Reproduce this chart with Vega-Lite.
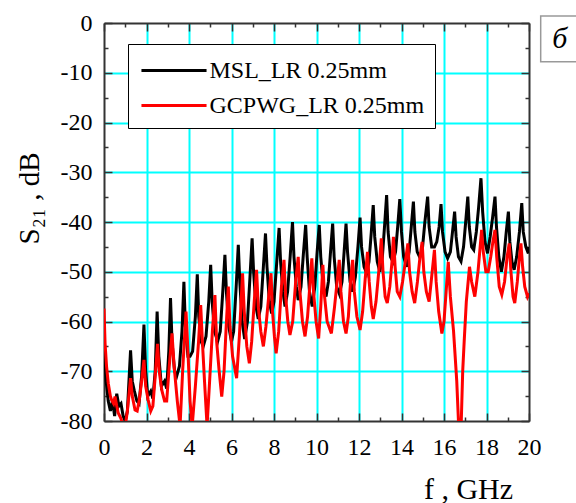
{
  "$schema": "https://vega.github.io/schema/vega-lite/v6.json",
  "width": 425,
  "height": 398,
  "autosize": {"type": "none"},
  "padding": {"left": 104, "top": 23, "right": 47, "bottom": 82},
  "background": "white",
  "config": {"view": {"stroke": null}, "font": "Liberation Serif"},
  "data": {"values": [
    {"series": "MSL_LR 0.25mm", "f": 0, "S21": -65},
    {"series": "MSL_LR 0.25mm", "f": 0.05, "S21": -68},
    {"series": "MSL_LR 0.25mm", "f": 0.1, "S21": -72},
    {"series": "MSL_LR 0.25mm", "f": 0.2, "S21": -76},
    {"series": "MSL_LR 0.25mm", "f": 0.3, "S21": -78},
    {"series": "MSL_LR 0.25mm", "f": 0.4, "S21": -76},
    {"series": "MSL_LR 0.25mm", "f": 0.5, "S21": -79},
    {"series": "MSL_LR 0.25mm", "f": 0.6, "S21": -74.5},
    {"series": "MSL_LR 0.25mm", "f": 0.7, "S21": -77},
    {"series": "MSL_LR 0.25mm", "f": 0.8, "S21": -76.5},
    {"series": "MSL_LR 0.25mm", "f": 0.9, "S21": -79},
    {"series": "MSL_LR 0.25mm", "f": 1.0, "S21": -80},
    {"series": "MSL_LR 0.25mm", "f": 1.1, "S21": -78},
    {"series": "MSL_LR 0.25mm", "f": 1.25, "S21": -65.8},
    {"series": "MSL_LR 0.25mm", "f": 1.33, "S21": -72},
    {"series": "MSL_LR 0.25mm", "f": 1.43, "S21": -74},
    {"series": "MSL_LR 0.25mm", "f": 1.55, "S21": -76},
    {"series": "MSL_LR 0.25mm", "f": 1.65, "S21": -76.5},
    {"series": "MSL_LR 0.25mm", "f": 1.77, "S21": -71},
    {"series": "MSL_LR 0.25mm", "f": 1.88, "S21": -60.6},
    {"series": "MSL_LR 0.25mm", "f": 1.96, "S21": -70},
    {"series": "MSL_LR 0.25mm", "f": 2.06, "S21": -75},
    {"series": "MSL_LR 0.25mm", "f": 2.2, "S21": -74},
    {"series": "MSL_LR 0.25mm", "f": 2.3, "S21": -75.5},
    {"series": "MSL_LR 0.25mm", "f": 2.41, "S21": -70},
    {"series": "MSL_LR 0.25mm", "f": 2.5, "S21": -58},
    {"series": "MSL_LR 0.25mm", "f": 2.58, "S21": -67},
    {"series": "MSL_LR 0.25mm", "f": 2.7, "S21": -73},
    {"series": "MSL_LR 0.25mm", "f": 2.85, "S21": -72},
    {"series": "MSL_LR 0.25mm", "f": 2.95, "S21": -73.5},
    {"series": "MSL_LR 0.25mm", "f": 3.05, "S21": -66},
    {"series": "MSL_LR 0.25mm", "f": 3.13, "S21": -55.3},
    {"series": "MSL_LR 0.25mm", "f": 3.2, "S21": -64},
    {"series": "MSL_LR 0.25mm", "f": 3.32, "S21": -70},
    {"series": "MSL_LR 0.25mm", "f": 3.42, "S21": -71},
    {"series": "MSL_LR 0.25mm", "f": 3.55, "S21": -69},
    {"series": "MSL_LR 0.25mm", "f": 3.67, "S21": -62},
    {"series": "MSL_LR 0.25mm", "f": 3.76, "S21": -52},
    {"series": "MSL_LR 0.25mm", "f": 3.83, "S21": -61},
    {"series": "MSL_LR 0.25mm", "f": 3.95, "S21": -67},
    {"series": "MSL_LR 0.25mm", "f": 4.05, "S21": -67},
    {"series": "MSL_LR 0.25mm", "f": 4.17, "S21": -66},
    {"series": "MSL_LR 0.25mm", "f": 4.3, "S21": -59},
    {"series": "MSL_LR 0.25mm", "f": 4.39, "S21": -50.5},
    {"series": "MSL_LR 0.25mm", "f": 4.46, "S21": -59},
    {"series": "MSL_LR 0.25mm", "f": 4.57, "S21": -64},
    {"series": "MSL_LR 0.25mm", "f": 4.67, "S21": -65},
    {"series": "MSL_LR 0.25mm", "f": 4.8, "S21": -63},
    {"series": "MSL_LR 0.25mm", "f": 4.93, "S21": -56},
    {"series": "MSL_LR 0.25mm", "f": 5.02, "S21": -48.6},
    {"series": "MSL_LR 0.25mm", "f": 5.09, "S21": -56},
    {"series": "MSL_LR 0.25mm", "f": 5.2, "S21": -62},
    {"series": "MSL_LR 0.25mm", "f": 5.35, "S21": -64},
    {"series": "MSL_LR 0.25mm", "f": 5.47, "S21": -62},
    {"series": "MSL_LR 0.25mm", "f": 5.59, "S21": -54},
    {"series": "MSL_LR 0.25mm", "f": 5.69, "S21": -46.6},
    {"series": "MSL_LR 0.25mm", "f": 5.76, "S21": -54},
    {"series": "MSL_LR 0.25mm", "f": 5.87, "S21": -61},
    {"series": "MSL_LR 0.25mm", "f": 6.0, "S21": -64},
    {"series": "MSL_LR 0.25mm", "f": 6.1, "S21": -62},
    {"series": "MSL_LR 0.25mm", "f": 6.22, "S21": -53},
    {"series": "MSL_LR 0.25mm", "f": 6.32, "S21": -44.6},
    {"series": "MSL_LR 0.25mm", "f": 6.39, "S21": -52},
    {"series": "MSL_LR 0.25mm", "f": 6.5, "S21": -60},
    {"series": "MSL_LR 0.25mm", "f": 6.62, "S21": -63.5},
    {"series": "MSL_LR 0.25mm", "f": 6.75, "S21": -60},
    {"series": "MSL_LR 0.25mm", "f": 6.87, "S21": -51},
    {"series": "MSL_LR 0.25mm", "f": 6.97, "S21": -43.3},
    {"series": "MSL_LR 0.25mm", "f": 7.04, "S21": -50},
    {"series": "MSL_LR 0.25mm", "f": 7.15, "S21": -57},
    {"series": "MSL_LR 0.25mm", "f": 7.26, "S21": -59.5},
    {"series": "MSL_LR 0.25mm", "f": 7.38, "S21": -57},
    {"series": "MSL_LR 0.25mm", "f": 7.5, "S21": -49},
    {"series": "MSL_LR 0.25mm", "f": 7.6, "S21": -42.3},
    {"series": "MSL_LR 0.25mm", "f": 7.67, "S21": -49},
    {"series": "MSL_LR 0.25mm", "f": 7.78, "S21": -56},
    {"series": "MSL_LR 0.25mm", "f": 7.89, "S21": -58.4},
    {"series": "MSL_LR 0.25mm", "f": 8.0, "S21": -56},
    {"series": "MSL_LR 0.25mm", "f": 8.13, "S21": -48},
    {"series": "MSL_LR 0.25mm", "f": 8.24, "S21": -41.2},
    {"series": "MSL_LR 0.25mm", "f": 8.31, "S21": -48},
    {"series": "MSL_LR 0.25mm", "f": 8.42, "S21": -54},
    {"series": "MSL_LR 0.25mm", "f": 8.52, "S21": -57},
    {"series": "MSL_LR 0.25mm", "f": 8.64, "S21": -54},
    {"series": "MSL_LR 0.25mm", "f": 8.76, "S21": -47},
    {"series": "MSL_LR 0.25mm", "f": 8.87, "S21": -40},
    {"series": "MSL_LR 0.25mm", "f": 8.94, "S21": -47},
    {"series": "MSL_LR 0.25mm", "f": 9.05, "S21": -53},
    {"series": "MSL_LR 0.25mm", "f": 9.14, "S21": -55.7},
    {"series": "MSL_LR 0.25mm", "f": 9.27, "S21": -53},
    {"series": "MSL_LR 0.25mm", "f": 9.39, "S21": -46},
    {"series": "MSL_LR 0.25mm", "f": 9.49, "S21": -40.6},
    {"series": "MSL_LR 0.25mm", "f": 9.56, "S21": -47},
    {"series": "MSL_LR 0.25mm", "f": 9.67, "S21": -54},
    {"series": "MSL_LR 0.25mm", "f": 9.8, "S21": -57},
    {"series": "MSL_LR 0.25mm", "f": 9.92, "S21": -53},
    {"series": "MSL_LR 0.25mm", "f": 10.03, "S21": -46},
    {"series": "MSL_LR 0.25mm", "f": 10.13, "S21": -40.6},
    {"series": "MSL_LR 0.25mm", "f": 10.2, "S21": -47},
    {"series": "MSL_LR 0.25mm", "f": 10.32, "S21": -53},
    {"series": "MSL_LR 0.25mm", "f": 10.45, "S21": -55},
    {"series": "MSL_LR 0.25mm", "f": 10.56, "S21": -52},
    {"series": "MSL_LR 0.25mm", "f": 10.66, "S21": -46},
    {"series": "MSL_LR 0.25mm", "f": 10.76, "S21": -40.3},
    {"series": "MSL_LR 0.25mm", "f": 10.83, "S21": -47},
    {"series": "MSL_LR 0.25mm", "f": 10.95, "S21": -53},
    {"series": "MSL_LR 0.25mm", "f": 11.08, "S21": -54.5},
    {"series": "MSL_LR 0.25mm", "f": 11.2, "S21": -52},
    {"series": "MSL_LR 0.25mm", "f": 11.3, "S21": -46},
    {"series": "MSL_LR 0.25mm", "f": 11.39, "S21": -40.3},
    {"series": "MSL_LR 0.25mm", "f": 11.46, "S21": -46},
    {"series": "MSL_LR 0.25mm", "f": 11.58, "S21": -52},
    {"series": "MSL_LR 0.25mm", "f": 11.7, "S21": -54},
    {"series": "MSL_LR 0.25mm", "f": 11.83, "S21": -51},
    {"series": "MSL_LR 0.25mm", "f": 11.95, "S21": -45},
    {"series": "MSL_LR 0.25mm", "f": 12.05, "S21": -39.1},
    {"series": "MSL_LR 0.25mm", "f": 12.12, "S21": -45},
    {"series": "MSL_LR 0.25mm", "f": 12.24, "S21": -49},
    {"series": "MSL_LR 0.25mm", "f": 12.36, "S21": -50.3},
    {"series": "MSL_LR 0.25mm", "f": 12.47, "S21": -48},
    {"series": "MSL_LR 0.25mm", "f": 12.58, "S21": -42},
    {"series": "MSL_LR 0.25mm", "f": 12.67, "S21": -36.6},
    {"series": "MSL_LR 0.25mm", "f": 12.74, "S21": -43},
    {"series": "MSL_LR 0.25mm", "f": 12.86, "S21": -48},
    {"series": "MSL_LR 0.25mm", "f": 12.98, "S21": -50},
    {"series": "MSL_LR 0.25mm", "f": 13.1, "S21": -47},
    {"series": "MSL_LR 0.25mm", "f": 13.2, "S21": -41},
    {"series": "MSL_LR 0.25mm", "f": 13.3, "S21": -34.6},
    {"series": "MSL_LR 0.25mm", "f": 13.37, "S21": -42},
    {"series": "MSL_LR 0.25mm", "f": 13.48, "S21": -47},
    {"series": "MSL_LR 0.25mm", "f": 13.6, "S21": -48},
    {"series": "MSL_LR 0.25mm", "f": 13.72, "S21": -46},
    {"series": "MSL_LR 0.25mm", "f": 13.82, "S21": -41},
    {"series": "MSL_LR 0.25mm", "f": 13.92, "S21": -35.4},
    {"series": "MSL_LR 0.25mm", "f": 14.0, "S21": -42},
    {"series": "MSL_LR 0.25mm", "f": 14.1, "S21": -47},
    {"series": "MSL_LR 0.25mm", "f": 14.24, "S21": -49},
    {"series": "MSL_LR 0.25mm", "f": 14.36, "S21": -46},
    {"series": "MSL_LR 0.25mm", "f": 14.46, "S21": -41},
    {"series": "MSL_LR 0.25mm", "f": 14.56, "S21": -35.9},
    {"series": "MSL_LR 0.25mm", "f": 14.63, "S21": -42},
    {"series": "MSL_LR 0.25mm", "f": 14.74, "S21": -46},
    {"series": "MSL_LR 0.25mm", "f": 14.85, "S21": -47},
    {"series": "MSL_LR 0.25mm", "f": 14.97, "S21": -46},
    {"series": "MSL_LR 0.25mm", "f": 15.1, "S21": -40},
    {"series": "MSL_LR 0.25mm", "f": 15.23, "S21": -34.9},
    {"series": "MSL_LR 0.25mm", "f": 15.3, "S21": -41},
    {"series": "MSL_LR 0.25mm", "f": 15.42, "S21": -45},
    {"series": "MSL_LR 0.25mm", "f": 15.55, "S21": -45},
    {"series": "MSL_LR 0.25mm", "f": 15.66, "S21": -44},
    {"series": "MSL_LR 0.25mm", "f": 15.77, "S21": -41},
    {"series": "MSL_LR 0.25mm", "f": 15.86, "S21": -36.4},
    {"series": "MSL_LR 0.25mm", "f": 15.93, "S21": -42},
    {"series": "MSL_LR 0.25mm", "f": 16.05, "S21": -46},
    {"series": "MSL_LR 0.25mm", "f": 16.17, "S21": -47.3},
    {"series": "MSL_LR 0.25mm", "f": 16.3, "S21": -46},
    {"series": "MSL_LR 0.25mm", "f": 16.4, "S21": -42},
    {"series": "MSL_LR 0.25mm", "f": 16.5, "S21": -37.9},
    {"series": "MSL_LR 0.25mm", "f": 16.57, "S21": -43},
    {"series": "MSL_LR 0.25mm", "f": 16.68, "S21": -47},
    {"series": "MSL_LR 0.25mm", "f": 16.8, "S21": -47.9},
    {"series": "MSL_LR 0.25mm", "f": 16.92, "S21": -45},
    {"series": "MSL_LR 0.25mm", "f": 17.02, "S21": -40},
    {"series": "MSL_LR 0.25mm", "f": 17.12, "S21": -34.9},
    {"series": "MSL_LR 0.25mm", "f": 17.19, "S21": -41},
    {"series": "MSL_LR 0.25mm", "f": 17.3, "S21": -45},
    {"series": "MSL_LR 0.25mm", "f": 17.4, "S21": -45.6},
    {"series": "MSL_LR 0.25mm", "f": 17.52, "S21": -42},
    {"series": "MSL_LR 0.25mm", "f": 17.63, "S21": -37},
    {"series": "MSL_LR 0.25mm", "f": 17.74, "S21": -31.2},
    {"series": "MSL_LR 0.25mm", "f": 17.82, "S21": -38},
    {"series": "MSL_LR 0.25mm", "f": 17.93, "S21": -44},
    {"series": "MSL_LR 0.25mm", "f": 18.05, "S21": -46.3},
    {"series": "MSL_LR 0.25mm", "f": 18.17, "S21": -43},
    {"series": "MSL_LR 0.25mm", "f": 18.29, "S21": -39},
    {"series": "MSL_LR 0.25mm", "f": 18.4, "S21": -34.9},
    {"series": "MSL_LR 0.25mm", "f": 18.47, "S21": -41},
    {"series": "MSL_LR 0.25mm", "f": 18.58, "S21": -47},
    {"series": "MSL_LR 0.25mm", "f": 18.7, "S21": -50},
    {"series": "MSL_LR 0.25mm", "f": 18.82, "S21": -47},
    {"series": "MSL_LR 0.25mm", "f": 18.93, "S21": -42},
    {"series": "MSL_LR 0.25mm", "f": 19.03, "S21": -37.9},
    {"series": "MSL_LR 0.25mm", "f": 19.1, "S21": -44},
    {"series": "MSL_LR 0.25mm", "f": 19.2, "S21": -48},
    {"series": "MSL_LR 0.25mm", "f": 19.3, "S21": -49.6},
    {"series": "MSL_LR 0.25mm", "f": 19.42, "S21": -47},
    {"series": "MSL_LR 0.25mm", "f": 19.55, "S21": -42},
    {"series": "MSL_LR 0.25mm", "f": 19.66, "S21": -36.2},
    {"series": "MSL_LR 0.25mm", "f": 19.73, "S21": -42},
    {"series": "MSL_LR 0.25mm", "f": 19.85, "S21": -45},
    {"series": "MSL_LR 0.25mm", "f": 19.97, "S21": -46.3},
    {"series": "MSL_LR 0.25mm", "f": 20.0, "S21": -45},
    {"series": "GCPWG_LR 0.25mm", "f": 0, "S21": -57.4},
    {"series": "GCPWG_LR 0.25mm", "f": 0.05, "S21": -64.4},
    {"series": "GCPWG_LR 0.25mm", "f": 0.12, "S21": -69},
    {"series": "GCPWG_LR 0.25mm", "f": 0.2, "S21": -72.4},
    {"series": "GCPWG_LR 0.25mm", "f": 0.3, "S21": -75},
    {"series": "GCPWG_LR 0.25mm", "f": 0.36, "S21": -75.8},
    {"series": "GCPWG_LR 0.25mm", "f": 0.45, "S21": -76.5},
    {"series": "GCPWG_LR 0.25mm", "f": 0.52, "S21": -75.1},
    {"series": "GCPWG_LR 0.25mm", "f": 0.6, "S21": -77},
    {"series": "GCPWG_LR 0.25mm", "f": 0.67, "S21": -78.4},
    {"series": "GCPWG_LR 0.25mm", "f": 0.8, "S21": -79.5},
    {"series": "GCPWG_LR 0.25mm", "f": 0.9, "S21": -81},
    {"series": "GCPWG_LR 0.25mm", "f": 1.0, "S21": -81},
    {"series": "GCPWG_LR 0.25mm", "f": 1.1, "S21": -78},
    {"series": "GCPWG_LR 0.25mm", "f": 1.25, "S21": -71.4},
    {"series": "GCPWG_LR 0.25mm", "f": 1.33, "S21": -75},
    {"series": "GCPWG_LR 0.25mm", "f": 1.46, "S21": -77.8},
    {"series": "GCPWG_LR 0.25mm", "f": 1.56, "S21": -78},
    {"series": "GCPWG_LR 0.25mm", "f": 1.66, "S21": -75.8},
    {"series": "GCPWG_LR 0.25mm", "f": 1.77, "S21": -72},
    {"series": "GCPWG_LR 0.25mm", "f": 1.88, "S21": -67.7},
    {"series": "GCPWG_LR 0.25mm", "f": 1.96, "S21": -73},
    {"series": "GCPWG_LR 0.25mm", "f": 2.08, "S21": -75.8},
    {"series": "GCPWG_LR 0.25mm", "f": 2.2, "S21": -78},
    {"series": "GCPWG_LR 0.25mm", "f": 2.3, "S21": -77},
    {"series": "GCPWG_LR 0.25mm", "f": 2.41, "S21": -71},
    {"series": "GCPWG_LR 0.25mm", "f": 2.52, "S21": -64.5},
    {"series": "GCPWG_LR 0.25mm", "f": 2.6, "S21": -70},
    {"series": "GCPWG_LR 0.25mm", "f": 2.72, "S21": -73.8},
    {"series": "GCPWG_LR 0.25mm", "f": 2.85, "S21": -76},
    {"series": "GCPWG_LR 0.25mm", "f": 2.95, "S21": -76},
    {"series": "GCPWG_LR 0.25mm", "f": 3.07, "S21": -69},
    {"series": "GCPWG_LR 0.25mm", "f": 3.2, "S21": -62.4},
    {"series": "GCPWG_LR 0.25mm", "f": 3.3, "S21": -69},
    {"series": "GCPWG_LR 0.25mm", "f": 3.45, "S21": -76},
    {"series": "GCPWG_LR 0.25mm", "f": 3.58, "S21": -81},
    {"series": "GCPWG_LR 0.25mm", "f": 3.7, "S21": -70},
    {"series": "GCPWG_LR 0.25mm", "f": 3.86, "S21": -58},
    {"series": "GCPWG_LR 0.25mm", "f": 3.95, "S21": -66},
    {"series": "GCPWG_LR 0.25mm", "f": 4.05, "S21": -76},
    {"series": "GCPWG_LR 0.25mm", "f": 4.15, "S21": -81},
    {"series": "GCPWG_LR 0.25mm", "f": 4.3, "S21": -73},
    {"series": "GCPWG_LR 0.25mm", "f": 4.45, "S21": -64},
    {"series": "GCPWG_LR 0.25mm", "f": 4.55, "S21": -56.7},
    {"series": "GCPWG_LR 0.25mm", "f": 4.63, "S21": -64},
    {"series": "GCPWG_LR 0.25mm", "f": 4.73, "S21": -72},
    {"series": "GCPWG_LR 0.25mm", "f": 4.85, "S21": -81},
    {"series": "GCPWG_LR 0.25mm", "f": 4.97, "S21": -72},
    {"series": "GCPWG_LR 0.25mm", "f": 5.1, "S21": -62},
    {"series": "GCPWG_LR 0.25mm", "f": 5.22, "S21": -54.7},
    {"series": "GCPWG_LR 0.25mm", "f": 5.3, "S21": -64},
    {"series": "GCPWG_LR 0.25mm", "f": 5.42, "S21": -70},
    {"series": "GCPWG_LR 0.25mm", "f": 5.54, "S21": -75.1},
    {"series": "GCPWG_LR 0.25mm", "f": 5.65, "S21": -70},
    {"series": "GCPWG_LR 0.25mm", "f": 5.75, "S21": -61},
    {"series": "GCPWG_LR 0.25mm", "f": 5.85, "S21": -53},
    {"series": "GCPWG_LR 0.25mm", "f": 5.93, "S21": -61},
    {"series": "GCPWG_LR 0.25mm", "f": 6.05, "S21": -67},
    {"series": "GCPWG_LR 0.25mm", "f": 6.24, "S21": -71.4},
    {"series": "GCPWG_LR 0.25mm", "f": 6.37, "S21": -63},
    {"series": "GCPWG_LR 0.25mm", "f": 6.52, "S21": -50.3},
    {"series": "GCPWG_LR 0.25mm", "f": 6.6, "S21": -58},
    {"series": "GCPWG_LR 0.25mm", "f": 6.72, "S21": -65},
    {"series": "GCPWG_LR 0.25mm", "f": 6.84, "S21": -68.4},
    {"series": "GCPWG_LR 0.25mm", "f": 6.95, "S21": -64},
    {"series": "GCPWG_LR 0.25mm", "f": 7.07, "S21": -56},
    {"series": "GCPWG_LR 0.25mm", "f": 7.18, "S21": -49.6},
    {"series": "GCPWG_LR 0.25mm", "f": 7.26, "S21": -57},
    {"series": "GCPWG_LR 0.25mm", "f": 7.38, "S21": -62},
    {"series": "GCPWG_LR 0.25mm", "f": 7.5, "S21": -65},
    {"series": "GCPWG_LR 0.25mm", "f": 7.62, "S21": -61},
    {"series": "GCPWG_LR 0.25mm", "f": 7.75, "S21": -55},
    {"series": "GCPWG_LR 0.25mm", "f": 7.86, "S21": -50.3},
    {"series": "GCPWG_LR 0.25mm", "f": 7.93, "S21": -58},
    {"series": "GCPWG_LR 0.25mm", "f": 8.02, "S21": -63},
    {"series": "GCPWG_LR 0.25mm", "f": 8.1, "S21": -66.4},
    {"series": "GCPWG_LR 0.25mm", "f": 8.22, "S21": -62},
    {"series": "GCPWG_LR 0.25mm", "f": 8.35, "S21": -53},
    {"series": "GCPWG_LR 0.25mm", "f": 8.47, "S21": -47.6},
    {"series": "GCPWG_LR 0.25mm", "f": 8.55, "S21": -55},
    {"series": "GCPWG_LR 0.25mm", "f": 8.65, "S21": -60},
    {"series": "GCPWG_LR 0.25mm", "f": 8.75, "S21": -62.7},
    {"series": "GCPWG_LR 0.25mm", "f": 8.88, "S21": -60},
    {"series": "GCPWG_LR 0.25mm", "f": 9.02, "S21": -52},
    {"series": "GCPWG_LR 0.25mm", "f": 9.14, "S21": -47},
    {"series": "GCPWG_LR 0.25mm", "f": 9.22, "S21": -54},
    {"series": "GCPWG_LR 0.25mm", "f": 9.34, "S21": -60},
    {"series": "GCPWG_LR 0.25mm", "f": 9.46, "S21": -63},
    {"series": "GCPWG_LR 0.25mm", "f": 9.58, "S21": -59},
    {"series": "GCPWG_LR 0.25mm", "f": 9.7, "S21": -52},
    {"series": "GCPWG_LR 0.25mm", "f": 9.78, "S21": -47.3},
    {"series": "GCPWG_LR 0.25mm", "f": 9.86, "S21": -54},
    {"series": "GCPWG_LR 0.25mm", "f": 9.98, "S21": -60},
    {"series": "GCPWG_LR 0.25mm", "f": 10.1, "S21": -63.4},
    {"series": "GCPWG_LR 0.25mm", "f": 10.2, "S21": -57},
    {"series": "GCPWG_LR 0.25mm", "f": 10.3, "S21": -48.6},
    {"series": "GCPWG_LR 0.25mm", "f": 10.38, "S21": -55},
    {"series": "GCPWG_LR 0.25mm", "f": 10.5, "S21": -60},
    {"series": "GCPWG_LR 0.25mm", "f": 10.7, "S21": -62.4},
    {"series": "GCPWG_LR 0.25mm", "f": 10.85, "S21": -57},
    {"series": "GCPWG_LR 0.25mm", "f": 10.97, "S21": -52},
    {"series": "GCPWG_LR 0.25mm", "f": 11.07, "S21": -47.6},
    {"series": "GCPWG_LR 0.25mm", "f": 11.15, "S21": -54},
    {"series": "GCPWG_LR 0.25mm", "f": 11.27, "S21": -60},
    {"series": "GCPWG_LR 0.25mm", "f": 11.39, "S21": -62.4},
    {"series": "GCPWG_LR 0.25mm", "f": 11.5, "S21": -59},
    {"series": "GCPWG_LR 0.25mm", "f": 11.6, "S21": -52},
    {"series": "GCPWG_LR 0.25mm", "f": 11.7, "S21": -47.6},
    {"series": "GCPWG_LR 0.25mm", "f": 11.78, "S21": -54},
    {"series": "GCPWG_LR 0.25mm", "f": 11.9, "S21": -59},
    {"series": "GCPWG_LR 0.25mm", "f": 12.05, "S21": -61.7},
    {"series": "GCPWG_LR 0.25mm", "f": 12.17, "S21": -58},
    {"series": "GCPWG_LR 0.25mm", "f": 12.3, "S21": -51},
    {"series": "GCPWG_LR 0.25mm", "f": 12.4, "S21": -46},
    {"series": "GCPWG_LR 0.25mm", "f": 12.48, "S21": -52},
    {"series": "GCPWG_LR 0.25mm", "f": 12.58, "S21": -57},
    {"series": "GCPWG_LR 0.25mm", "f": 12.67, "S21": -59.5},
    {"series": "GCPWG_LR 0.25mm", "f": 12.8, "S21": -56},
    {"series": "GCPWG_LR 0.25mm", "f": 12.95, "S21": -49},
    {"series": "GCPWG_LR 0.25mm", "f": 13.05, "S21": -43.3},
    {"series": "GCPWG_LR 0.25mm", "f": 13.13, "S21": -50},
    {"series": "GCPWG_LR 0.25mm", "f": 13.23, "S21": -55},
    {"series": "GCPWG_LR 0.25mm", "f": 13.33, "S21": -56.3},
    {"series": "GCPWG_LR 0.25mm", "f": 13.45, "S21": -53},
    {"series": "GCPWG_LR 0.25mm", "f": 13.55, "S21": -48},
    {"series": "GCPWG_LR 0.25mm", "f": 13.62, "S21": -43},
    {"series": "GCPWG_LR 0.25mm", "f": 13.7, "S21": -49},
    {"series": "GCPWG_LR 0.25mm", "f": 13.8, "S21": -54},
    {"series": "GCPWG_LR 0.25mm", "f": 13.92, "S21": -55},
    {"series": "GCPWG_LR 0.25mm", "f": 14.05, "S21": -52},
    {"series": "GCPWG_LR 0.25mm", "f": 14.18, "S21": -48},
    {"series": "GCPWG_LR 0.25mm", "f": 14.3, "S21": -44.3},
    {"series": "GCPWG_LR 0.25mm", "f": 14.38, "S21": -50},
    {"series": "GCPWG_LR 0.25mm", "f": 14.5, "S21": -54},
    {"series": "GCPWG_LR 0.25mm", "f": 14.62, "S21": -56.3},
    {"series": "GCPWG_LR 0.25mm", "f": 14.75, "S21": -52},
    {"series": "GCPWG_LR 0.25mm", "f": 14.87, "S21": -47},
    {"series": "GCPWG_LR 0.25mm", "f": 14.97, "S21": -44},
    {"series": "GCPWG_LR 0.25mm", "f": 15.05, "S21": -50},
    {"series": "GCPWG_LR 0.25mm", "f": 15.17, "S21": -54},
    {"series": "GCPWG_LR 0.25mm", "f": 15.3, "S21": -56},
    {"series": "GCPWG_LR 0.25mm", "f": 15.42, "S21": -51},
    {"series": "GCPWG_LR 0.25mm", "f": 15.55, "S21": -45.6},
    {"series": "GCPWG_LR 0.25mm", "f": 15.63, "S21": -52},
    {"series": "GCPWG_LR 0.25mm", "f": 15.75, "S21": -58},
    {"series": "GCPWG_LR 0.25mm", "f": 15.9, "S21": -62.4},
    {"series": "GCPWG_LR 0.25mm", "f": 16.0, "S21": -60},
    {"series": "GCPWG_LR 0.25mm", "f": 16.1, "S21": -54},
    {"series": "GCPWG_LR 0.25mm", "f": 16.2, "S21": -48},
    {"series": "GCPWG_LR 0.25mm", "f": 16.3, "S21": -55},
    {"series": "GCPWG_LR 0.25mm", "f": 16.45, "S21": -62},
    {"series": "GCPWG_LR 0.25mm", "f": 16.6, "S21": -72},
    {"series": "GCPWG_LR 0.25mm", "f": 16.7, "S21": -82},
    {"series": "GCPWG_LR 0.25mm", "f": 16.8, "S21": -82},
    {"series": "GCPWG_LR 0.25mm", "f": 16.88, "S21": -70},
    {"series": "GCPWG_LR 0.25mm", "f": 16.95, "S21": -64},
    {"series": "GCPWG_LR 0.25mm", "f": 17.05, "S21": -56},
    {"series": "GCPWG_LR 0.25mm", "f": 17.2, "S21": -49},
    {"series": "GCPWG_LR 0.25mm", "f": 17.3, "S21": -52},
    {"series": "GCPWG_LR 0.25mm", "f": 17.45, "S21": -55},
    {"series": "GCPWG_LR 0.25mm", "f": 17.6, "S21": -50},
    {"series": "GCPWG_LR 0.25mm", "f": 17.77, "S21": -41.6},
    {"series": "GCPWG_LR 0.25mm", "f": 17.85, "S21": -46},
    {"series": "GCPWG_LR 0.25mm", "f": 17.97, "S21": -50},
    {"series": "GCPWG_LR 0.25mm", "f": 18.08, "S21": -50},
    {"series": "GCPWG_LR 0.25mm", "f": 18.2, "S21": -47},
    {"series": "GCPWG_LR 0.25mm", "f": 18.3, "S21": -44},
    {"series": "GCPWG_LR 0.25mm", "f": 18.4, "S21": -41.6},
    {"series": "GCPWG_LR 0.25mm", "f": 18.48, "S21": -47},
    {"series": "GCPWG_LR 0.25mm", "f": 18.6, "S21": -53},
    {"series": "GCPWG_LR 0.25mm", "f": 18.72, "S21": -54.6},
    {"series": "GCPWG_LR 0.25mm", "f": 18.85, "S21": -52},
    {"series": "GCPWG_LR 0.25mm", "f": 18.97, "S21": -47},
    {"series": "GCPWG_LR 0.25mm", "f": 19.07, "S21": -44.3},
    {"series": "GCPWG_LR 0.25mm", "f": 19.15, "S21": -50},
    {"series": "GCPWG_LR 0.25mm", "f": 19.25, "S21": -55},
    {"series": "GCPWG_LR 0.25mm", "f": 19.33, "S21": -56.3},
    {"series": "GCPWG_LR 0.25mm", "f": 19.45, "S21": -52},
    {"series": "GCPWG_LR 0.25mm", "f": 19.55, "S21": -47},
    {"series": "GCPWG_LR 0.25mm", "f": 19.62, "S21": -44.3},
    {"series": "GCPWG_LR 0.25mm", "f": 19.7, "S21": -49},
    {"series": "GCPWG_LR 0.25mm", "f": 19.8, "S21": -53},
    {"series": "GCPWG_LR 0.25mm", "f": 19.93, "S21": -55},
    {"series": "GCPWG_LR 0.25mm", "f": 20.0, "S21": -54.3}
  ]},
  "layer": [
    {
      "transform": [{"filter": "datum.series === 'MSL_LR 0.25mm'"}],
      "mark": {"type": "line", "strokeWidth": 3, "clip": true},
      "encoding": {
        "x": {
          "field": "f", "type": "quantitative",
          "scale": {"domain": [0, 20], "nice": false, "zero": false},
          "axis": {
            "orient": "bottom",
            "values": [0,1,2,3,4,5,6,7,8,9,10,11,12,13,14,15,16,17,18,19,20],
            "labelExpr": "datum.value % 2 === 0 ? '' + datum.value : ''",
            "labelOverlap": false, "labelFlush": false,
            "labelFont": "Liberation Serif", "labelFontSize": 24, "labelColor": "black", "labelPadding": 22,
            "grid": true, "gridColor": "#00ffff", "gridWidth": 2,
            "gridOpacity": {"condition": {"test": "datum.value % 2 !== 0 || datum.value === 0 || datum.value === 20", "value": 0}, "value": 1},
            "tickSize": {"condition": {"test": "datum.value % 2 === 0", "value": -8}, "value": -4},
            "tickColor": "#333", "tickWidth": 1.5,
            "domainColor": "#333", "domainWidth": 2,
            "title": "f , GHz",
            "titleFont": "Liberation Serif", "titleFontSize": 30, "titleFontWeight": "normal", "titleColor": "black",
            "titleX": 364, "titleY": 77, "titleAlign": "center", "titleBaseline": "alphabetic"
          }
        },
        "y": {
          "field": "S21", "type": "quantitative",
          "scale": {"domain": [-80, 0], "nice": false, "zero": false},
          "axis": {
            "orient": "left",
            "values": [-80,-75,-70,-65,-60,-55,-50,-45,-40,-35,-30,-25,-20,-15,-10,-5,0],
            "labelExpr": "datum.value % 10 === 0 ? '' + datum.value : ''",
            "labelOverlap": false, "labelFlush": false,
            "labelFont": "Liberation Serif", "labelFontSize": 24, "labelColor": "black", "labelPadding": 20,
            "grid": true, "gridColor": "#00ffff", "gridWidth": 2,
            "gridOpacity": {"condition": {"test": "datum.value % 10 !== 0 || datum.value === 0 || datum.value === -80", "value": 0}, "value": 1},
            "tickSize": {"condition": {"test": "datum.value % 10 === 0", "value": -8}, "value": -4},
            "tickColor": "#333", "tickWidth": 1.5,
            "domainColor": "#333", "domainWidth": 2,
            "title": "S₂₁ , dB",
            "titleFont": "Liberation Serif", "titleFontSize": 29, "titleFontWeight": "normal", "titleColor": "black",
            "titleX": -66, "titleY": 175, "titleAngle": -90, "titleAlign": "center", "titleBaseline": "alphabetic"
          }
        },
        "color": {
          "field": "series", "type": "nominal",
          "scale": {"domain": ["MSL_LR 0.25mm", "GCPWG_LR 0.25mm"], "range": ["#000000", "#ff0000"]},
          "legend": {
            "title": null, "orient": "none", "legendX": 24, "legendY": 21,
            "direction": "vertical",
            "fillColor": "white", "strokeColor": "black",
            "padding": 10,
            "symbolType": "M-2.17,0H2.17",
            "symbolSize": 900,
            "symbolStrokeWidth": 3,
            "symbolOffset": 19.5,
            "labelOffset": 19,
            "labelFont": "Liberation Serif", "labelFontSize": 24, "labelColor": "black", "labelLimit": 0,
            "rowPadding": 6
          }
        }
      }
    },
    {
      "transform": [{"filter": "datum.series === 'GCPWG_LR 0.25mm'"}],
      "mark": {"type": "line", "strokeWidth": 3, "clip": true},
      "encoding": {
        "x": {
          "field": "f", "type": "quantitative",
          "axis": {
            "orient": "top",
            "values": [0,1,2,3,4,5,6,7,8,9,10,11,12,13,14,15,16,17,18,19,20],
            "labels": false, "grid": false, "title": null,
            "tickSize": {"condition": {"test": "datum.value % 2 === 0", "value": -8}, "value": -4},
            "tickColor": "#333", "tickWidth": 1.5,
            "domainColor": "#333", "domainWidth": 2
          }
        },
        "y": {
          "field": "S21", "type": "quantitative",
          "axis": {
            "orient": "right",
            "values": [-80,-75,-70,-65,-60,-55,-50,-45,-40,-35,-30,-25,-20,-15,-10,-5,0],
            "labels": false, "grid": false, "title": null,
            "tickSize": {"condition": {"test": "datum.value % 10 === 0", "value": -8}, "value": -4},
            "tickColor": "#333", "tickWidth": 1.5,
            "domainColor": "#333", "domainWidth": 2
          }
        },
        "color": {"field": "series", "type": "nominal"}
      }
    },
    {
      "data": {"values": [{"label": "б"}]},
      "mark": {"type": "rect", "fill": "white", "stroke": "#999999", "strokeWidth": 1.5, "clip": false},
      "encoding": {
        "x": {"datum": 20.55, "type": "quantitative", "axis": null},
        "x2": {"datum": 23},
        "y": {"datum": 1.4, "type": "quantitative", "axis": null},
        "y2": {"datum": -7.8}
      }
    },
    {
      "data": {"values": [{"label": "б"}]},
      "mark": {"type": "text", "font": "Liberation Serif", "fontStyle": "italic", "fontSize": 30, "color": "black", "align": "center", "baseline": "middle", "clip": false},
      "encoding": {
        "x": {"datum": 21.45, "type": "quantitative", "axis": null},
        "y": {"datum": -3.2, "type": "quantitative", "axis": null},
        "text": {"field": "label"}
      }
    }
  ],
  "resolve": {"axis": {"x": "independent", "y": "independent"}}
}
